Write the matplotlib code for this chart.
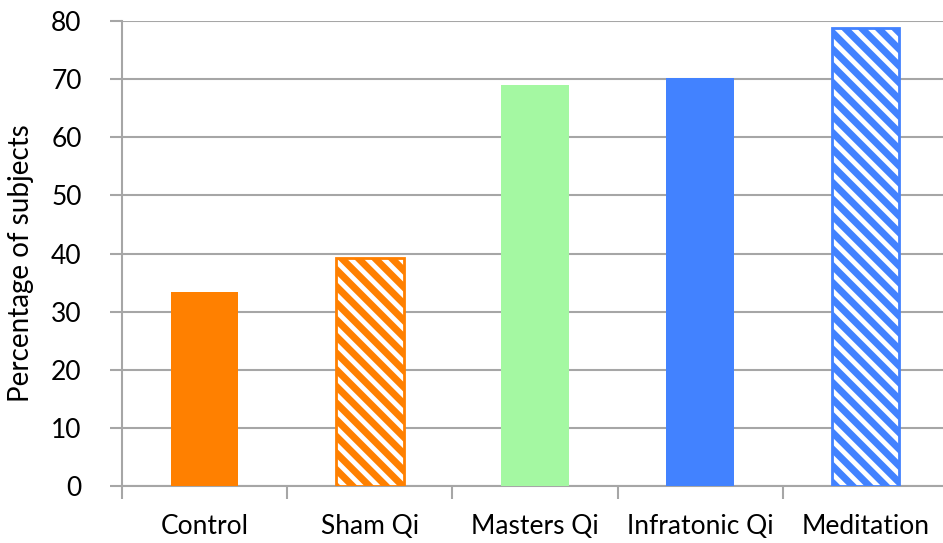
import matplotlib
matplotlib.use("Agg")
from matplotlib import pyplot as plt

categories = ["Control", "Sham Qi", "Masters Qi", "Infratonic Qi", "Meditation"]
values = [33.3, 39.3, 69.0, 70.2, 78.8]
colours = ["#FF8000", "#FF8000", "#A4F8A2", "#4282FF", "#4282FF"]
hatched = [False, True, False, False, True]
y_ticks = [0, 10, 20, 30, 40, 50, 60, 70, 80]

plt.rcParams['font.family'] = ['Lato', 'DejaVu Sans']
plt.rcParams['hatch.linewidth'] = 5

fig = plt.figure(figsize=(9.43, 5.43), dpi=100)
ax = fig.add_axes([122 / 943, 1 - 486 / 543, 826 / 943, 465 / 543])

x = list(range(len(categories)))
for i, v in enumerate(values):
    if hatched[i]:
        ax.bar(x[i], v, width=0.41, color="white", edgecolor=colours[i],
               hatch="\\\\", linewidth=2, zorder=3)
    else:
        ax.bar(x[i], v, width=0.41, color=colours[i], linewidth=0, zorder=3)

ax.set_xlim(-0.5, len(categories) - 0.5)
ax.set_ylim(0, 80)
ax.set_yticks(y_ticks)
ax.yaxis.grid(True, color="#A6A6A6", linewidth=1.5, zorder=0)

# category labels sit between boundary ticks
ax.set_xticks([i - 0.5 for i in range(len(categories) + 1)])
ax.set_xticklabels([])
ax.set_xticks(x, minor=True)
ax.set_xticklabels(categories, minor=True)
ax.tick_params(axis="x", which="minor", length=0, pad=20, labelsize=19)
ax.tick_params(axis="x", which="major", length=9, width=1.5, color="#A6A6A6")
ax.tick_params(axis="y", length=9, width=1.5, color="#A6A6A6", labelsize=19, pad=20)

for side in ["top", "right"]:
    ax.spines[side].set_visible(False)
for side in ["left", "bottom"]:
    ax.spines[side].set_color("#A6A6A6")
    ax.spines[side].set_linewidth(1.5)

ax.set_ylabel("Percentage of subjects", fontsize=20)
ax.yaxis.set_label_coords(-0.106, 0.48)

plt.savefig("out.png", dpi=100)
